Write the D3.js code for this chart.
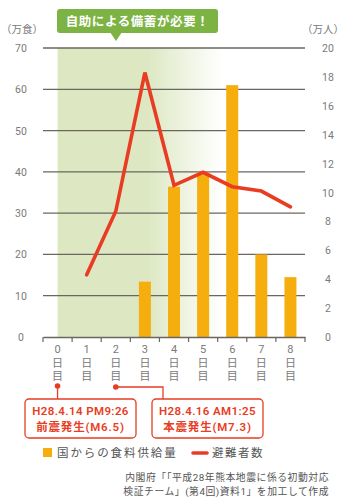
<!DOCTYPE html>
<html>
<head>
<meta charset="utf-8">
<script src="https://cdn.jsdelivr.net/npm/d3@7"></script>
<style>
  body { margin: 0; background: #fff; }
  svg { display: block; font-family: Roboto, "Noto Sans CJK JP", sans-serif; }
</style>
</head>
<body>
<div id="chart"></div>
<script>
// days after the first quake
var days = [0, 1, 2, 3, 4, 5, 6, 7, 8];
// food supplied by the state (万食), days 3..8
var foodDays = [3, 4, 5, 6, 7, 8];
var foodValues = [13.4, 36.4, 40, 61, 20, 14.5];
// evacuees (万人), days 1..8
var evacDays = [1, 2, 3, 4, 5, 6, 7, 8];
var evacValues = [4.3, 8.7, 18.3, 10.5, 11.4, 10.4, 10.1, 9.0];
var leftTicks = [0, 10, 20, 30, 40, 50, 60, 70];
var rightTicks = [0, 2, 4, 6, 8, 10, 12, 14, 16, 18, 20];

var W = 351, H = 503;
var red = "#e83c23", orange = "#f6ad0e", green = "#7cb342";

var svg = d3.select("#chart").append("svg")
    .attr("width", W).attr("height", H);

var x = d3.scaleBand().domain(days).range([43, 305]).paddingInner(0).paddingOuter(0);
var yL = d3.scaleLinear().domain([0, 70]).range([337, 48]);
var yR = d3.scaleLinear().domain([0, 20]).range([337, 48]);

// green "self help" background with fade
var defs = svg.append("defs");
var grad = defs.append("linearGradient").attr("id", "fade")
    .attr("gradientUnits", "userSpaceOnUse")
    .attr("x1", x(0) + x.bandwidth() / 2).attr("x2", 222).attr("y1", 0).attr("y2", 0);
grad.append("stop").attr("offset", "0%").attr("stop-color", "#dde8c3");
grad.append("stop").attr("offset", "55%").attr("stop-color", "#dde8c3");
grad.append("stop").attr("offset", "100%").attr("stop-color", "#dde8c3").attr("stop-opacity", 0);

svg.append("rect")
    .attr("x", x(0) + x.bandwidth() / 2).attr("y", yL(70))
    .attr("width", 222 - (x(0) + x.bandwidth() / 2)).attr("height", yL(0) - yL(70))
    .attr("fill", "url(#fade)");

// grid lines
svg.selectAll(".grid").data(leftTicks.filter(function(d) { return d > 0; }))
  .enter().append("line")
    .attr("x1", 43).attr("x2", 305)
    .attr("y1", function(d) { return yL(d); }).attr("y2", function(d) { return yL(d); })
    .attr("stroke", "#6b6660").attr("stroke-width", 1.3);

// left axis labels
svg.selectAll(".lt").data(leftTicks).enter().append("text")
    .attr("x", 21).attr("y", function(d) { return yL(d) + 4; })
    .attr("text-anchor", "middle").attr("font-size", 10.5).attr("fill", "#7a7a7a")
    .text(function(d) { return d; });

// right axis labels
svg.selectAll(".rt").data(rightTicks).enter().append("text")
    .attr("x", 328).attr("y", function(d) { return yR(d) + 4; })
    .attr("text-anchor", "middle").attr("font-size", 10.5).attr("fill", "#7a7a7a")
    .text(function(d) { return d; });

svg.append("text").attr("x", 22).attr("y", 33).attr("text-anchor", "middle")
    .attr("font-size", 10.5).attr("fill", "#7a7a7a").text("（万食）");
svg.append("text").attr("x", 323).attr("y", 33).attr("text-anchor", "middle")
    .attr("font-size", 10.5).attr("fill", "#7a7a7a").text("（万人）");

// bars
svg.selectAll(".bar").data(foodDays).enter().append("rect")
    .attr("x", function(d) { return x(d) + x.bandwidth() / 2 - 6; })
    .attr("width", 12)
    .attr("y", function(d, i) { return yL(foodValues[i]); })
    .attr("height", function(d, i) { return yL(0) - yL(foodValues[i]); })
    .attr("fill", orange);

// bottom axis
var xAxis = d3.axisBottom(x).tickSize(0).tickFormat("");
var gx = svg.append("g").attr("transform", "translate(0," + yL(0) + ")").call(xAxis);
gx.select(".domain").attr("stroke", "#6b6660").attr("stroke-width", 1.3);
var bounds = days.map(function(d) { return x(d); }).concat([x(8) + x.bandwidth()]);
gx.selectAll(".tk").data(bounds).enter().append("line")
    .attr("x1", function(d) { return d; }).attr("x2", function(d) { return d; })
    .attr("y1", 0).attr("y2", 5).attr("stroke", "#6b6660").attr("stroke-width", 1.2);

var lab = svg.selectAll(".xl").data(days).enter().append("g")
    .attr("transform", function(d) { return "translate(" + (x(d) + x.bandwidth() / 2) + ",0)"; });
lab.append("text").attr("y", 353).attr("text-anchor", "middle")
    .attr("font-size", 11).attr("fill", "#7a7a7a").text(function(d) { return d; });
lab.append("text").attr("y", 367).attr("text-anchor", "middle")
    .attr("font-size", 11).attr("fill", "#7a7a7a").text("日");
lab.append("text").attr("y", 380).attr("text-anchor", "middle")
    .attr("font-size", 11).attr("fill", "#7a7a7a").text("目");

// evacuee line
var line = d3.line()
    .x(function(d) { return x(d[0]) + x.bandwidth() / 2; })
    .y(function(d) { return yR(d[1]); });
svg.append("path")
    .datum(evacDays.map(function(d, i) { return [d, evacValues[i]]; }))
    .attr("d", line)
    .attr("fill", "none").attr("stroke", red).attr("stroke-width", 3.6)
    .attr("stroke-linejoin", "miter").attr("stroke-linecap", "round");

// title callout
var tb = svg.append("g");
tb.append("rect").attr("x", 57).attr("y", 9).attr("width", 161).attr("height", 24)
    .attr("rx", 3).attr("fill", green);
tb.append("path").attr("d", "M110,32 L116,41 L122,32 Z").attr("fill", green);
tb.append("text").attr("x", 137.5).attr("y", 26).attr("text-anchor", "middle")
    .attr("font-size", 12.5).attr("font-weight", "bold").attr("fill", "#fff")
    .attr("letter-spacing", 0.6).text("自助による備蓄が必要！");

// quake callouts
var c0 = x(0) + x.bandwidth() / 2, c2 = x(2) + x.bandwidth() / 2;
svg.append("line").attr("x1", c0).attr("x2", c0).attr("y1", 386).attr("y2", 399)
    .attr("stroke", red).attr("stroke-width", 1.3);
svg.append("path").attr("d", "M" + c2 + ",387 H163 V399")
    .attr("fill", "none").attr("stroke", red).attr("stroke-width", 1.3);
svg.append("circle").attr("cx", c0).attr("cy", 386).attr("r", 2.8).attr("fill", red);
svg.append("circle").attr("cx", c2).attr("cy", 387).attr("r", 2.8).attr("fill", red);

var boxes = [
  { x: 25, l1: "H28.4.14 PM9:26", l2: "前震発生(M6.5)" },
  { x: 152, l1: "H28.4.16 AM1:25", l2: "本震発生(M7.3)" }
];
var bx = svg.selectAll(".box").data(boxes).enter().append("g");
bx.append("rect").attr("x", function(d) { return d.x; }).attr("y", 399)
    .attr("width", 111).attr("height", 39).attr("rx", 4)
    .attr("fill", "#fff").attr("stroke", red).attr("stroke-width", 1.3);
bx.append("text").attr("x", function(d) { return d.x + 55.5; }).attr("y", 415)
    .attr("text-anchor", "middle").attr("font-size", 11.5).attr("font-weight", 600)
    .attr("letter-spacing", 0.4)
    .attr("fill", red).text(function(d) { return d.l1; });
bx.append("text").attr("x", function(d) { return d.x + 55.5; }).attr("y", 431)
    .attr("text-anchor", "middle").attr("font-size", 11.5).attr("font-weight", 600)
    .attr("letter-spacing", 0.8)
    .attr("fill", red).text(function(d) { return d.l2; });

// legend
svg.append("rect").attr("x", 43).attr("y", 448).attr("width", 9).attr("height", 9).attr("fill", orange);
svg.append("text").attr("x", 57).attr("y", 457).attr("font-size", 11.5).attr("fill", "#555")
    .attr("letter-spacing", 1.9).text("国からの食料供給量");
svg.append("line").attr("x1", 193).attr("x2", 207).attr("y1", 453).attr("y2", 453)
    .attr("stroke", red).attr("stroke-width", 3.6).attr("stroke-linecap", "round");
svg.append("text").attr("x", 212).attr("y", 457).attr("font-size", 11.5).attr("fill", "#555")
    .attr("letter-spacing", 1.5).text("避難者数");

// source
svg.append("text").attr("x", 329).attr("y", 481).attr("text-anchor", "end")
    .attr("font-size", 9.8).attr("fill", "#555").attr("letter-spacing", 0.55)
    .text("内閣府「「平成28年熊本地震に係る初動対応");
svg.append("text").attr("x", 329).attr("y", 495).attr("text-anchor", "end")
    .attr("font-size", 9.8).attr("fill", "#555").attr("letter-spacing", 0.55)
    .text("検証チーム」(第4回)資料1」を加工して作成");
</script>
</body>
</html>
